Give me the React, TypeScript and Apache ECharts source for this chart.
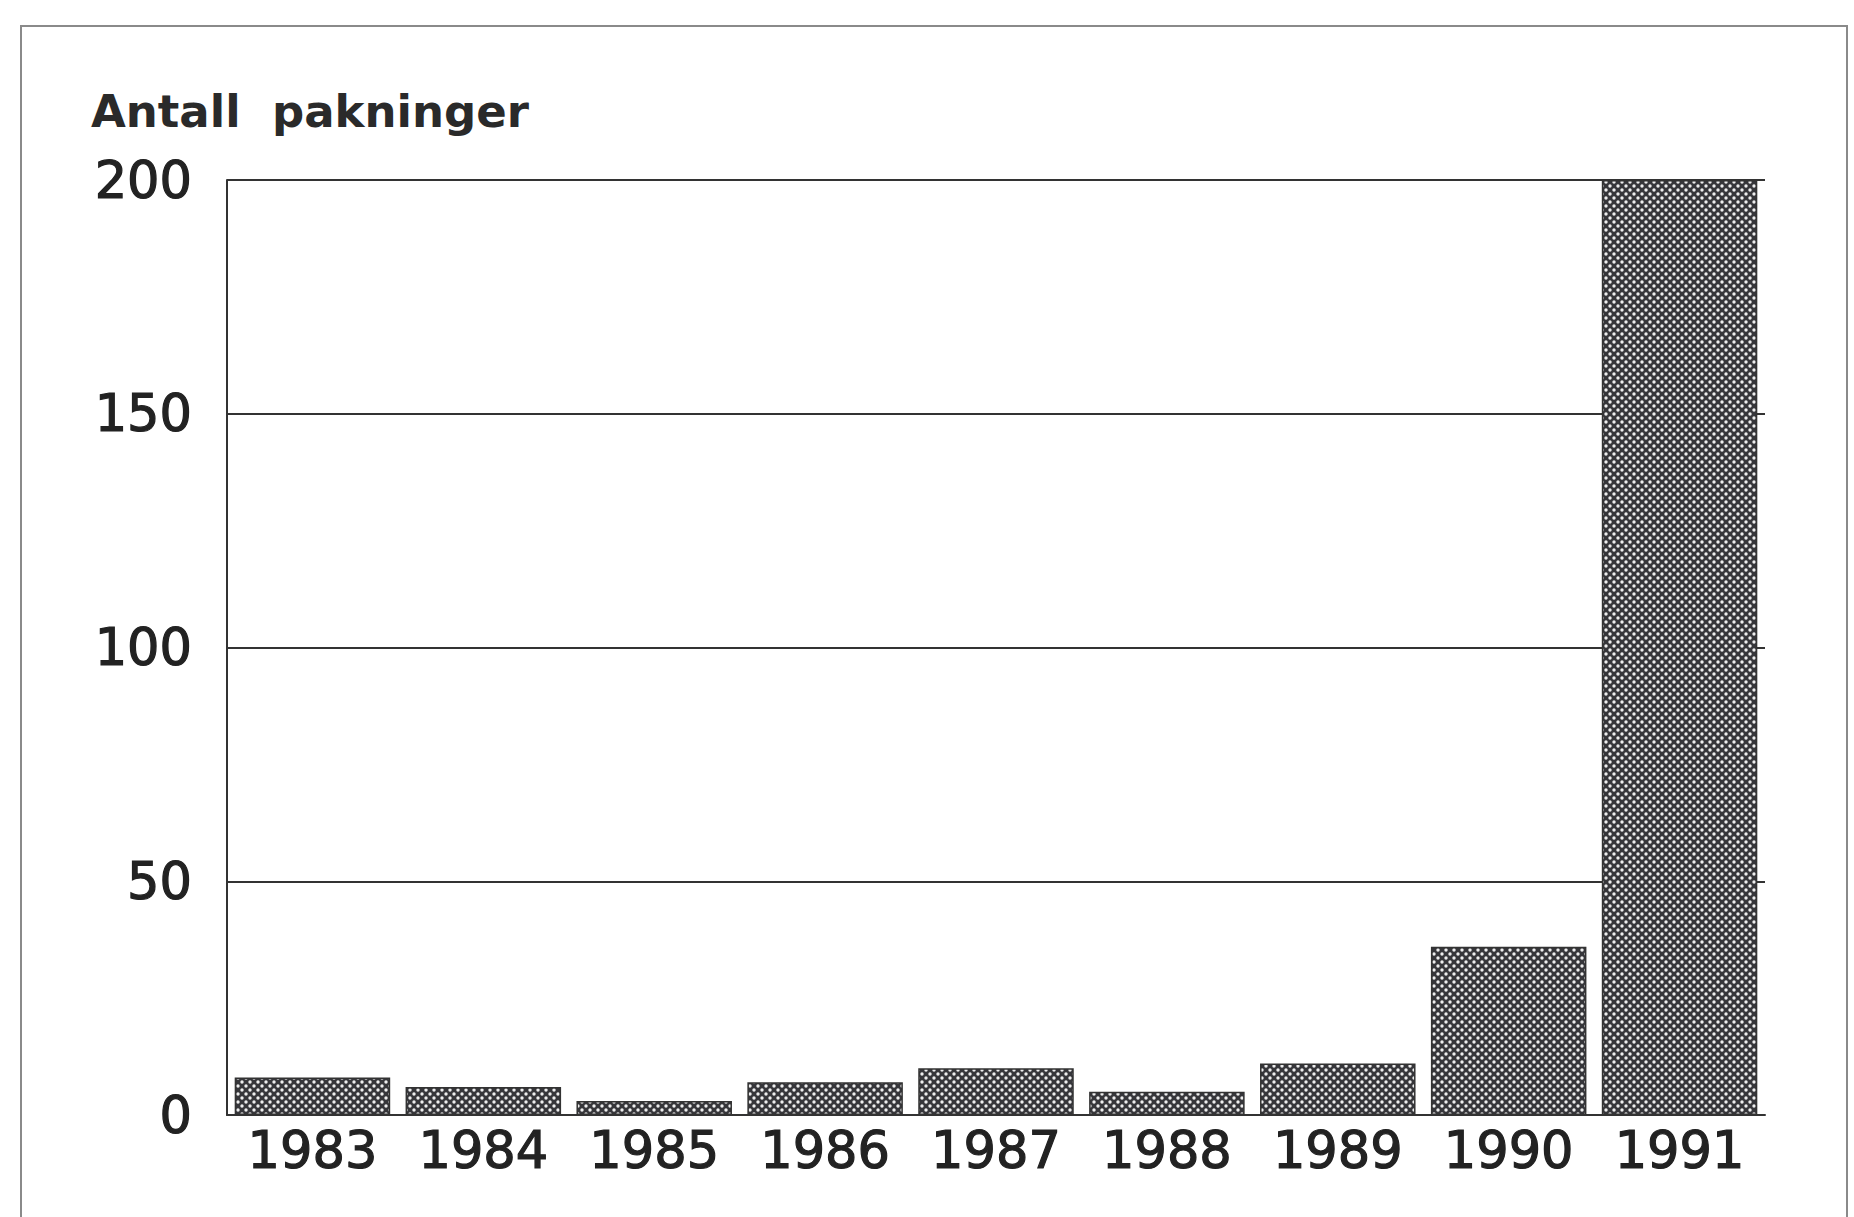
import React, { useEffect, useRef } from "react";
import * as echarts from "echarts";

const years = ["1983", "1984", "1985", "1986", "1987", "1988", "1989", "1990", "1991"];
const packages = [8, 6, 3, 7, 10, 5, 11, 36, 200];
const yTicks = [0, 50, 100, 150, 200];
const yTitle = "Antall  pakninger";

function makePattern(): HTMLCanvasElement {
  const c = document.createElement("canvas");
  c.width = 8;
  c.height = 8;
  const ctx = c.getContext("2d")!;
  ctx.fillStyle = "#36363a";
  ctx.fillRect(0, 0, 8, 8);
  ctx.fillStyle = "#eeeeee";
  const dots = [
    [2, 2],
    [6, 6],
  ];
  for (const [x, y] of dots) {
    ctx.beginPath();
    ctx.arc(x, y, 1.7, 0, Math.PI * 2);
    ctx.fill();
  }
  return c;
}

export default function App() {
  const ref = useRef<HTMLDivElement>(null);
  useEffect(() => {
    if (!ref.current) return;
    const chart = echarts.init(ref.current, undefined, { renderer: "svg" });
    const pattern = makePattern();
    chart.setOption({
      animation: false,
      backgroundColor: "#ffffff",
      textStyle: { fontFamily: "DejaVu Sans" },
      grid: { left: 227, top: 180, width: 1538, height: 935, containLabel: false },
      graphic: [
        {
          type: "rect",
          shape: { x: 21, y: 26, width: 1826, height: 1220 },
          style: { fill: "none", stroke: "#8a8a8a", lineWidth: 2 },
          silent: true,
        },
        {
          type: "text",
          left: 91,
          top: 89,
          style: {
            text: yTitle,
            font: "bold 45px 'DejaVu Sans'",
            fill: "#2a2a2a",
          },
        },
      ],
      xAxis: {
        type: "category",
        data: years,
        axisLine: { show: true, lineStyle: { color: "#333", width: 2 } },
        axisTick: { show: false },
        axisLabel: {
          color: "#222",
          fontSize: 51,
          margin: 10,
          fontFamily: "DejaVu Sans",
          textBorderColor: "#222",
          textBorderWidth: 1.2,
        },
      },
      yAxis: {
        type: "value",
        min: yTicks[0],
        max: yTicks[yTicks.length - 1],
        interval: 50,
        axisLine: { show: true, lineStyle: { color: "#333", width: 2 } },
        axisTick: { show: false },
        splitLine: { show: true, lineStyle: { color: "#333", width: 2 } },
        axisLabel: {
          color: "#222",
          fontSize: 51,
          margin: 35,
          fontFamily: "DejaVu Sans",
          textBorderColor: "#222",
          textBorderWidth: 1.2,
        },
      },
      series: [
        {
          type: "bar",
          data: packages,
          barCategoryGap: "9%",
          itemStyle: {
            color: { image: pattern, repeat: "repeat" },
            borderColor: "#333",
            borderWidth: 1.5,
          },
        },
      ],
    });
    return () => chart.dispose();
  }, []);
  return (
    <div
      ref={ref}
      style={{ position: "absolute", left: 0, top: 0, width: 1854, height: 1217 }}
    />
  );
}
